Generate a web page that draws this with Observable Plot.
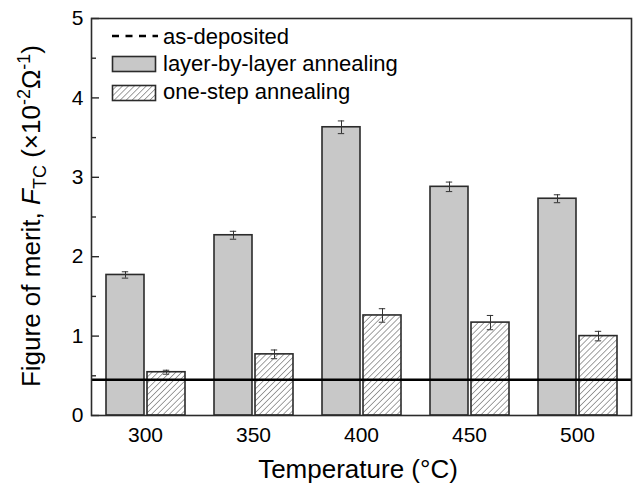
<!DOCTYPE html>
<html>
<head>
<meta charset="utf-8">
<script src="https://cdn.jsdelivr.net/npm/d3@7"></script>
<script src="https://cdn.jsdelivr.net/npm/@observablehq/plot@0.6"></script>
<style>
  html, body { margin: 0; padding: 0; background: #fff; }
  #chart { width: 635px; height: 486px; }
</style>
</head>
<body>
<div id="chart"></div>
<script>
// Figure of merit F_TC (×10^-2 Ω^-1) versus annealing temperature
const temperatures = [300, 350, 400, 450, 500];
const seriesNames = ["layer-by-layer annealing", "one-step annealing"];
const layerByLayer = [1.77, 2.27, 3.63, 2.88, 2.73];
const layerByLayerErr = [0.04, 0.05, 0.08, 0.06, 0.05];
const oneStep = [0.545, 0.77, 1.26, 1.17, 1.0];
const oneStepErr = [0.025, 0.055, 0.085, 0.09, 0.06];
const asDeposited = 0.45;
const yTicks = [0, 1, 2, 3, 4, 5];
const yMinorTicks = [0.5, 1.5, 2.5, 3.5, 4.5];

const rows = temperatures.flatMap((t, i) => [
  {temp: t, series: seriesNames[0], value: layerByLayer[i], err: layerByLayerErr[i]},
  {temp: t, series: seriesNames[1], value: oneStep[i], err: oneStepErr[i]}
]);

const font = "'Liberation Sans', Arial, Helvetica, sans-serif";
const ink = "#2b2b2b";

const chart = Plot.plot({
  width: 635,
  height: 486,
  marginLeft: 90,
  marginRight: 3,
  marginTop: 18,
  marginBottom: 71,
  style: {fontFamily: font, fontSize: "21px", color: "#000", background: "#fff"},
  fx: {domain: temperatures, padding: 0, axis: null},
  x: {domain: seriesNames, paddingInner: 0.08, paddingOuter: 0.334, axis: null},
  y: {domain: [0, 5], axis: null},
  marks: [
    Plot.barY(rows.filter(d => d.series === seriesNames[0]), {
      fx: "temp", x: "series", y: "value", fill: "#c8c8c8", stroke: ink, strokeWidth: 1.6
    }),
    Plot.barY(rows.filter(d => d.series === seriesNames[1]), {
      fx: "temp", x: "series", y: "value", fill: "url(#hatch)", stroke: ink, strokeWidth: 1.6
    }),
    Plot.ruleX(rows, {
      fx: "temp", x: "series", y1: d => d.value - d.err, y2: d => d.value + d.err,
      stroke: "#333", strokeWidth: 1
    }),
    Plot.tickY(rows, {fx: "temp", x: "series", y: d => d.value + d.err, inset: 15.8, stroke: "#333", strokeWidth: 1}),
    Plot.tickY(rows, {fx: "temp", x: "series", y: d => d.value - d.err, inset: 15.8, stroke: "#333", strokeWidth: 1}),
    Plot.ruleY([asDeposited], {stroke: "#000", strokeWidth: 2.5}),
    Plot.frame({facet: "super", stroke: ink, strokeWidth: 1.6}),
    Plot.axisY({ticks: yTicks, tickSize: -8, tickPadding: 16, tickFormat: d3.format("d"), fontSize: 21, label: null, stroke: ink, strokeWidth: 1.4}),
    Plot.axisY({ticks: yMinorTicks, tickSize: -5, tickFormat: () => "", label: null, stroke: ink, strokeWidth: 1.4}),
    Plot.axisFx({anchor: "bottom", tickSize: 0, tickPadding: 12, fontSize: 21, label: null})
  ]
});

document.getElementById("chart").appendChild(chart);

const svg = d3.select(chart);

// diagonal hatch fill for the one-step bars
const defs = svg.insert("defs", ":first-child");
const pattern = defs.append("pattern")
  .attr("id", "hatch")
  .attr("patternUnits", "userSpaceOnUse")
  .attr("width", 4.2)
  .attr("height", 4.2)
  .attr("patternTransform", "rotate(45)");
pattern.append("rect").attr("width", 4.2).attr("height", 4.2).attr("fill", "#fff");
pattern.append("line")
  .attr("x1", 0).attr("y1", 0).attr("x2", 0).attr("y2", 4.2)
  .attr("stroke", "#444").attr("stroke-width", 1);

// axis titles
svg.append("text")
  .attr("x", 358).attr("y", 478)
  .attr("text-anchor", "middle")
  .attr("font-family", font).attr("font-size", 26).attr("fill", "#000")
  .text("Temperature (°C)");

const yTitle = svg.append("text")
  .attr("transform", "translate(40,216) rotate(-90)")
  .attr("text-anchor", "middle")
  .attr("font-family", font).attr("font-size", 26).attr("fill", "#000");
yTitle.append("tspan").text("Figure of merit, ");
yTitle.append("tspan").attr("font-style", "italic").text("F");
yTitle.append("tspan").attr("font-size", 18).attr("dy", 6).text("TC");
yTitle.append("tspan").attr("dy", -6).text(" (×10");
yTitle.append("tspan").attr("font-size", 18).attr("dy", -10).text("-2");
yTitle.append("tspan").attr("dy", 10).text("Ω");
yTitle.append("tspan").attr("font-size", 18).attr("dy", -10).text("-1");
yTitle.append("tspan").attr("dy", 10).text(")");

// legend
const legend = svg.append("g")
  .attr("font-family", font).attr("font-size", 22).attr("fill", "#000")
  .attr("text-anchor", "start");
legend.append("line")
  .attr("x1", 112).attr("x2", 158).attr("y1", 36).attr("y2", 36)
  .attr("stroke", "#000").attr("stroke-width", 2.5).attr("stroke-dasharray", "7,6.5");
legend.append("text").attr("x", 163).attr("y", 43.5).text("as-deposited");
legend.append("rect")
  .attr("x", 112.5).attr("y", 56.5).attr("width", 43).attr("height", 15)
  .attr("fill", "#c8c8c8").attr("stroke", ink).attr("stroke-width", 1.6);
legend.append("text").attr("x", 163).attr("y", 70.5).text(seriesNames[0]);
legend.append("rect")
  .attr("x", 112.5).attr("y", 85.5).attr("width", 43).attr("height", 15)
  .attr("fill", "url(#hatch)").attr("stroke", ink).attr("stroke-width", 1.6);
legend.append("text").attr("x", 163).attr("y", 98.5).text(seriesNames[1]);
</script>
</body>
</html>
